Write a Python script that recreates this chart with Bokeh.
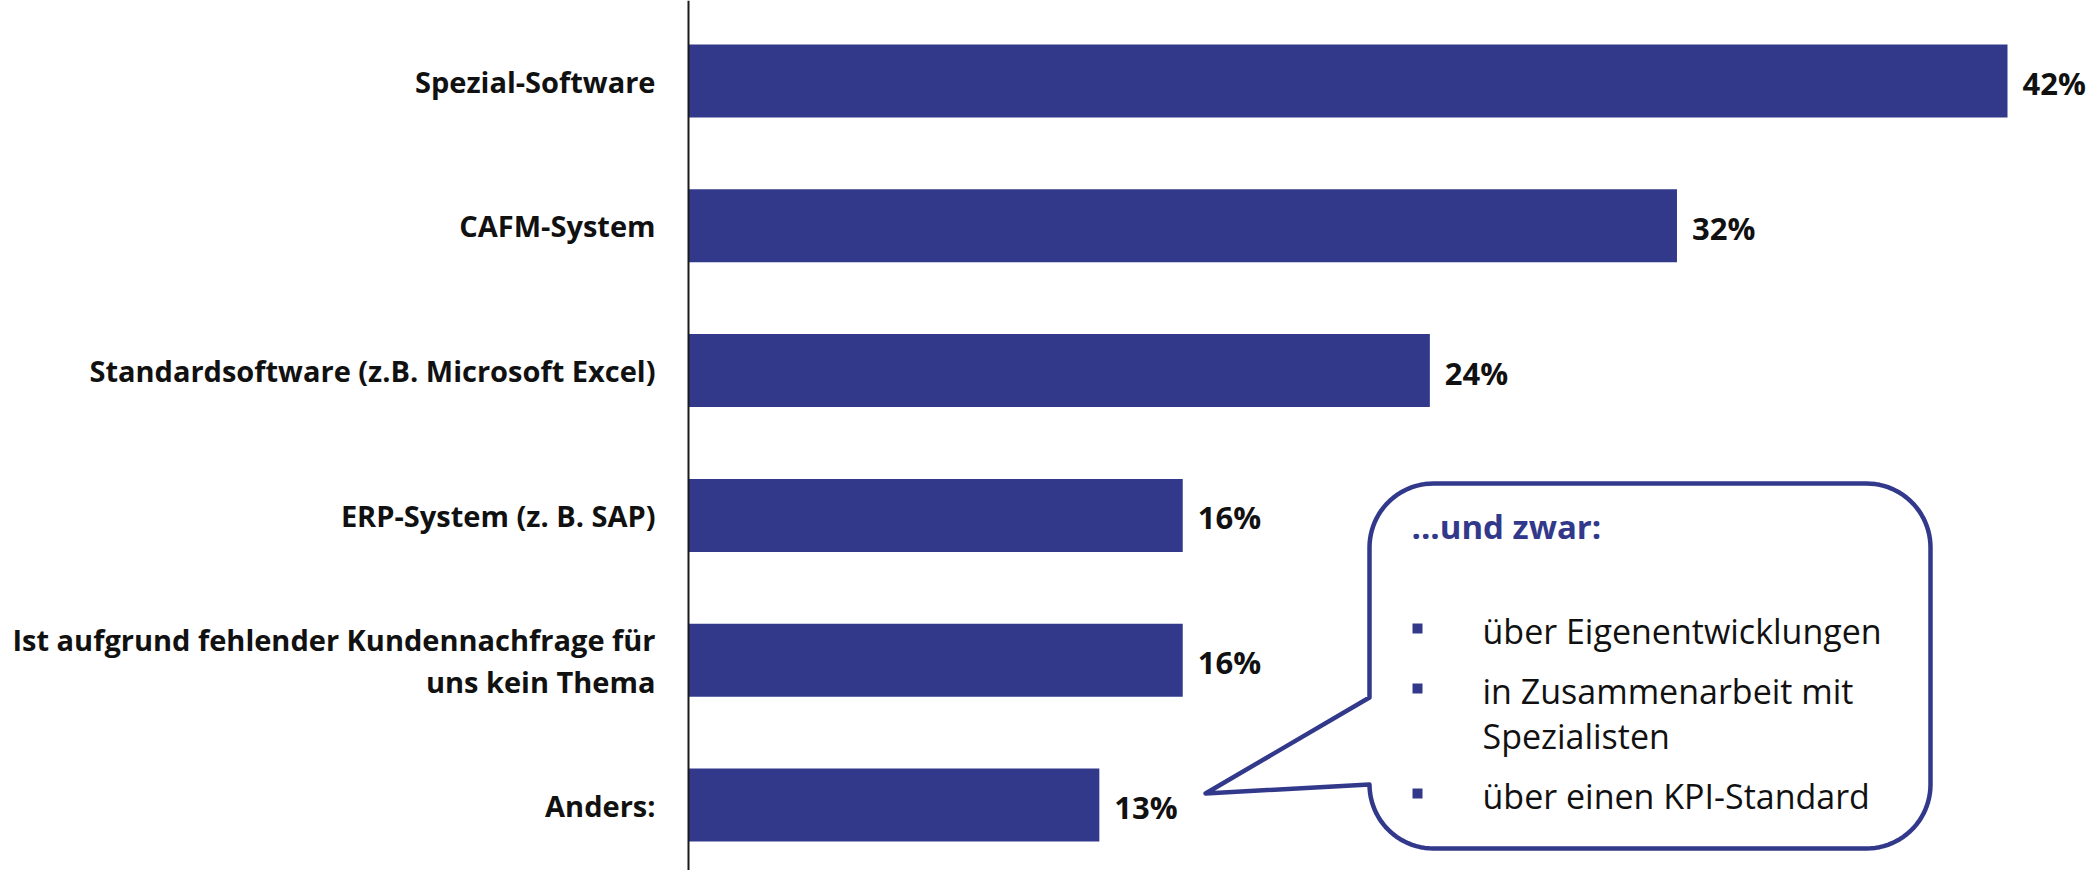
import numpy as np
from bokeh.plotting import figure
from bokeh.models import Range1d, Span, ColumnDataSource
from bokeh.core.properties import value
from bokeh.embed import file_html
from bokeh.resources import INLINE

# ---------------- data ----------------
categories = [
    "Spezial-Software",
    "CAFM-System",
    "Standardsoftware (z.B. Microsoft Excel)",
    "ERP-System (z. B. SAP)",
    "Ist aufgrund fehlender Kundennachfrage für\nuns kein Thema",
    "Anders:",
]
values = [42.7, 32.0, 24.0, 16.0, 16.0, 13.3]
value_labels = ["42%", "32%", "24%", "16%", "16%", "13%"]
callout_title = "...und zwar:"
callout_items = [
    "über Eigenentwicklungen",
    "in Zusammenarbeit mit\nSpezialisten",
    "über einen KPI-Standard",
]

# ---------------- layout / style ----------------
BLUE = "#32398B"
FONT = value("Open Sans")
W, H = 2096, 870
PX_PER_UNIT = 30.89      # px per percentage point
ZERO_PX = 688            # x pixel of value 0
ROW_PX = 144.8           # px per category row
ROW0_PX = 80.5           # y pixel of first row centre

x0 = -ZERO_PX / PX_PER_UNIT
x1 = (W - ZERO_PX) / PX_PER_UNIT
y_top = -ROW0_PX / ROW_PX
y_bot = (H - ROW0_PX) / ROW_PX


def sx(px):  # pixel -> data x
    return (px - ZERO_PX) / PX_PER_UNIT


def sy(py):  # pixel -> data y
    return (py - ROW0_PX) / ROW_PX


p = figure(
    width=W, height=H,
    x_range=Range1d(x0, x1), y_range=Range1d(y_bot, y_top),
    output_backend="svg", toolbar_location=None,
    x_axis_location=None, y_axis_location=None,
    min_border=0, min_border_left=0, min_border_right=0,
    min_border_top=0, min_border_bottom=0,
)
p.grid.visible = False
p.outline_line_color = None
p.background_fill_color = "white"
p.border_fill_color = "white"

rows = list(range(len(categories)))
src = ColumnDataSource(dict(y=rows, v=values, cat=categories, lab=value_labels))

p.hbar(y="y", left=0, right="v", height=0.504, source=src,
       fill_color=BLUE, line_color=None)

p.add_layout(Span(location=0, dimension="height", line_color="#1a1a1a", line_width=2))

p.text(x=0, y="y", text="cat", source=src, x_offset=-33,
       text_align="right", text_baseline="middle",
       text_font=FONT, text_font_size="29px", text_font_style="bold",
       text_color="#111111", text_line_height=1.08)

p.text(x="v", y="y", text="lab", source=src, x_offset=15, y_offset=2,
       text_align="left", text_baseline="middle",
       text_font=FONT, text_font_size="31px", text_font_style="bold",
       text_color="#111111")

# ---------------- callout ----------------
L, T, R, B, r = 1369, 483, 1930, 848, 64
tip = (1205, 793)
upper_attach = 697


def arc(cx, cy, a0, a1, n=24):
    a = np.radians(np.linspace(a0, a1, n))
    return list(zip(cx + r * np.cos(a), cy + r * np.sin(a)))


pts = []
pts += arc(R - r, T + r, -90, 0)
pts += arc(R - r, B - r, 0, 90)
pts += arc(L + r, B - r, 90, 180)
pts += [tip, (L, upper_attach)]
pts += arc(L + r, T + r, 180, 270)
xs = [sx(a) for a, b in pts]
ys = [sy(b) for a, b in pts]
p.patch(xs, ys, fill_color="white", line_color=BLUE, line_width=4.5, line_join="round")

p.text(x=[sx(1411)], y=[sy(526)], text=[callout_title],
       text_align="left", text_baseline="middle",
       text_font=FONT, text_font_size="33px", text_font_style="bold",
       text_color=BLUE)

item_centres = [630, 690, 795]
line_gap = 45
bx, by, tx, ty, tt = [], [], [], [], []
for c, item in zip(item_centres, callout_items):
    bx.append(sx(1417))
    by.append(sy(c - 2))
    for j, line in enumerate(item.split("\n")):
        tx.append(sx(1482))
        ty.append(sy(c + j * line_gap))
        tt.append(line)

p.scatter(bx, by, marker="square", size=10, fill_color=BLUE, line_color=None)
p.text(x=tx, y=ty, text=tt, text_align="left", text_baseline="middle",
       text_font=FONT, text_font_size="34px", text_color="#111111")

open("out.html", "w").write(file_html(p, INLINE))
